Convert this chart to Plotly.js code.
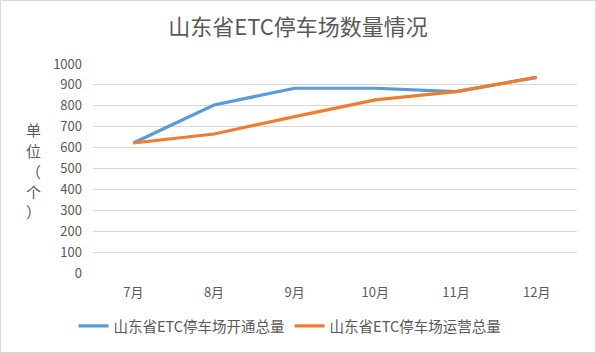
<!DOCTYPE html>
<html><head><meta charset="utf-8">
<script src="https://cdn.plot.ly/plotly-3.0.1.min.js"></script>
<style>body{margin:0;}#wrap{position:relative;width:596px;height:353px;}#c{width:596px;height:353px;}#b{position:absolute;left:0;top:0;width:594px;height:351px;border:1px solid #d9d9d9;pointer-events:none;}</style>
</head><body><div id="wrap"><div id="c"></div><div id="b"></div></div>
<script>
const months = ["7月","8月","9月","10月","11月","12月"];
const openedTotal = [622, 804, 884, 884, 868, 936];
const operatingTotal = [622, 665, 748, 828, 868, 936];
const seriesNames = ["山东省ETC停车场开通总量","山东省ETC停车场运营总量"];
const yTicks = [0,100,200,300,400,500,600,700,800,900,1000];
const yTitleChars = ["单","位","（","个","）"];
const font = '"Noto Sans CJK SC", "Microsoft YaHei", sans-serif';
const grey = '#595959';
const plotTop = 64, plotBottom = 273, plotH = plotBottom - plotTop;
const charY = [129, 150, 171, 191, 212];
const annotations = yTitleChars.map((ch, i) => ({
  xref:'paper', yref:'paper', x:(33-93)/484, y:(plotBottom - charY[i])/plotH,
  xanchor:'center', yanchor:'middle', showarrow:false, text:ch,
  font:{size:15, color:grey, family:font}
}));
Plotly.newPlot('c', [
  {x: months, y: openedTotal, name: seriesNames[0], type:'scatter', mode:'lines', line:{color:'#5B9BD5', width:3.2}},
  {x: months, y: operatingTotal, name: seriesNames[1], type:'scatter', mode:'lines', line:{color:'#ED7D31', width:3.2}}
], {
  width:596, height:353,
  margin:{l:93, r:19, t:plotTop, b:353-plotBottom, autoexpand:false},
  paper_bgcolor:'#fff', plot_bgcolor:'#fff',
  font:{family:font, color:grey, size:12},
  title:{text:'山东省ETC停车场数量情况', font:{size:22, color:grey, family:font}, xref:'container', x:298/596, xanchor:'center', yref:'container', y:1-27/353, yanchor:'middle'},
  xaxis:{type:'category', automargin:false, showgrid:false, zeroline:false, showline:false, ticks:'', ticklabelstandoff:10, tickfont:{size:13, color:grey}, range:[-0.5,5.5]},
  yaxis:{range:[0,1000], automargin:false, tickvals:yTicks, showgrid:true, gridcolor:'#d9d9d9', gridwidth:1, zeroline:false, showline:false, ticks:'', ticklabelstandoff:10, tickfont:{size:13, color:grey}},
  showlegend:true,
  legend:{orientation:'h', xref:'container', yref:'container', x:290/596, xanchor:'center', y:1-326/353, yanchor:'middle', font:{size:14.5, color:grey}, itemwidth:30, tracegroupgap:0},
  annotations: annotations
}, {displayModeBar:false, staticPlot:true});
</script></body></html>
